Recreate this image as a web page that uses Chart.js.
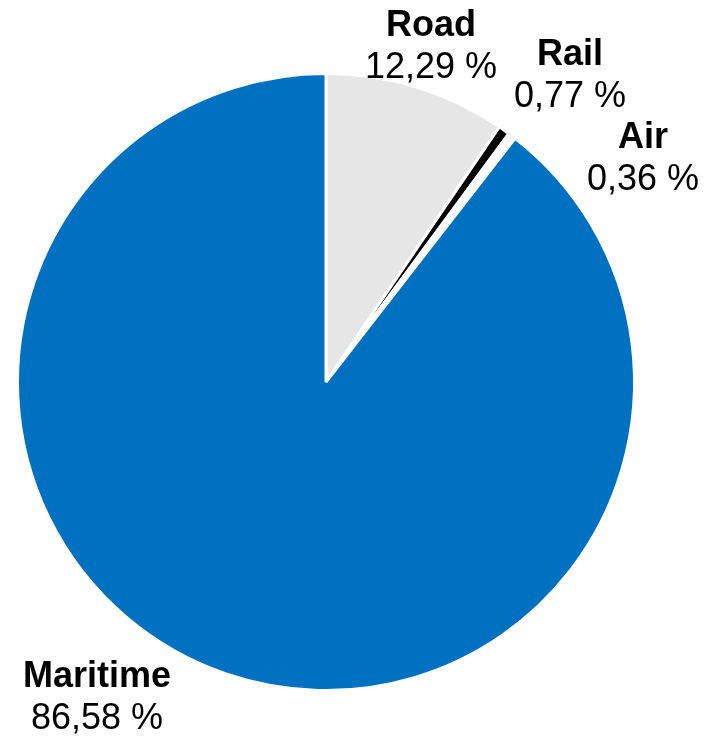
<!DOCTYPE html>
<html lang="en">
<head>
    <meta charset="UTF-8">
    <title>Modal split</title>
    <script src="https://cdn.jsdelivr.net/npm/chart.js"></script>
    <style>
        html, body {
            margin: 0;
            padding: 0;
            background: #ffffff;
        }
        #wrap {
            width: 716px;
            height: 741px;
            position: relative;
        }
    </style>
</head>
<body>
    <div id="wrap"><canvas id="pie"></canvas></div>

    <script>
        // categories, slice sizes as drawn, and the printed shares
        const categories = ["Road", "Rail", "Air", "Maritime"];
        const sliceValues = [9.5, 0.6, 0.4, 89.5];
        const shareLabels = ["12,29 %", "0,77 %", "0,36 %", "86,58 %"];
        const sliceColors = ["#e7e6e6", "#000000", "#ffffff", "#0070c0"];

        // where each label block is centred (first line baseline)
        const labelAnchors = [[431, 36], [570, 65], [643, 148], [97, 687]];

        const labelPlugin = {
            id: "sliceLabels",
            afterDatasetsDraw(chart) {
                const ctx = chart.ctx;
                ctx.save();
                ctx.fillStyle = "#000000";
                ctx.textAlign = "center";
                ctx.textBaseline = "alphabetic";
                categories.forEach((name, i) => {
                    const [x, y] = labelAnchors[i];
                    ctx.font = "bold 36px 'Liberation Sans', Arial, sans-serif";
                    ctx.fillText(name, x, y);
                    ctx.font = "36px 'Liberation Sans', Arial, sans-serif";
                    ctx.fillText(shareLabels[i], x, y + 42);
                });
                ctx.restore();
            }
        };

        new Chart(document.getElementById("pie"), {
            type: "pie",
            data: {
                labels: categories,
                datasets: [{
                    data: sliceValues,
                    backgroundColor: sliceColors,
                    borderColor: "#ffffff",
                    borderWidth: 3
                }]
            },
            options: {
                responsive: true,
                maintainAspectRatio: false,
                animation: false,
                layout: {
                    padding: { left: 16, top: 72, right: 80, bottom: 49 }
                },
                plugins: {
                    legend: { display: false },
                    tooltip: { enabled: false }
                }
            },
            plugins: [labelPlugin]
        });
    </script>
</body>
</html>
